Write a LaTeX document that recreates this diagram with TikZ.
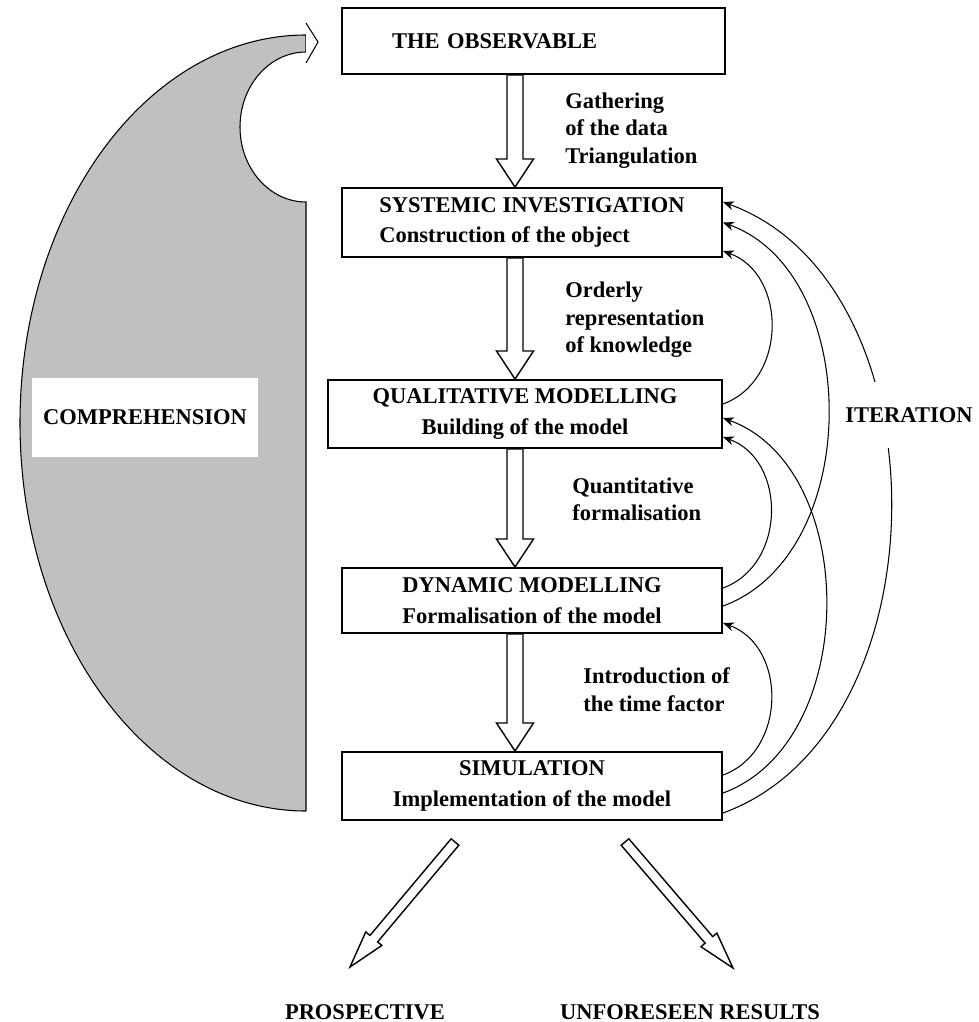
\documentclass[tikz,border=0pt]{standalone}
\usepackage{fontspec}
\setmainfont{Liberation Serif}
\usepackage{tikz}
\usetikzlibrary{arrows.meta,positioning,calc}
\definecolor{grisComp}{RGB}{192,192,192}

\begin{document}
\begin{tikzpicture}[
  boite/.style={draw, line width=1.1pt, minimum width=7.6cm, minimum height=1.36cm,
                align=center, font=\fontsize{12.8}{15.3}\selectfont\bfseries},
  etiquette/.style={anchor=west, align=left, inner sep=0pt,
                font=\fontsize{12.8}{15.6}\selectfont\bfseries},
  titre/.style={font=\fontsize{12.8}{15.3}\selectfont\bfseries},
  creux/.style={draw, line width=0.8pt, line join=miter},
  retour/.style={-{Stealth[length=2.2mm,width=1.8mm]}, line width=0.6pt,
                 out=20, in=-20}]

  \useasboundingbox (0,0) rectangle (19.56,-20.44);

  % la grande fleche grise
  \draw[line width=0.6pt, fill=grisComp] (6.12,-16.22) -- (6.12,-4.04)
    arc[start angle=-90, end angle=-270, x radius=1.32, y radius=1.5]
    -- (6.12,-0.70)
    arc[start angle=90, end angle=270, x radius=5.72, y radius=7.76] -- cycle;
  \draw[line width=0.6pt, fill=white] (6.12,-1.26) -- (6.36,-0.84) -- (6.12,-0.46);
  \node[titre, fill=white, minimum width=4.52cm, minimum height=1.58cm]
    (COMP) at (2.9,-8.35) {COMPREHENSION};

  % les etapes
  \node[boite, minimum width=7.66cm, minimum height=1.32cm, text width=5.66cm,
        inner xsep=1cm, align=left] (OBS) at (10.67,-0.82) {THE OBSERVABLE};
  \node[boite, align=left, minimum height=1.38cm] (SYS) at (10.64,-4.45)
    {SYSTEMIC INVESTIGATION\\[2pt]Construction of the object};
  \node[boite, minimum width=7.88cm] (QUAL) at (10.5,-8.28)
    {QUALITATIVE MODELLING\\[2pt]Building of the model};
  \node[boite, minimum height=1.3cm] (DYN) at (10.64,-12.01)
    {DYNAMIC MODELLING\\[2pt]Formalisation of the model};
  \node[boite] (SIM) at (10.64,-15.72)
    {SIMULATION\\[2pt]Implementation of the model};

  \node[etiquette] (L1) at (11.3,-2.61) {Gathering\\of the data\\Triangulation};
  \node[etiquette] (L2) at (11.3,-6.4) {Orderly\\representation\\of knowledge};
  \node[etiquette] (L3) at (11.44,-9.99) {Quantitative\\formalisation};
  \node[etiquette] (L4) at (11.66,-13.79) {Introduction of\\the time factor};

  \node[titre] (PROS) at (7.3,-20.24) {PROSPECTIVE};
  \node[titre] (UNF) at (13.8,-20.24) {UNFORESEEN RESULTS};

  % fleches creuses
  \coordinate (axe) at (10.3,0);
  \foreach \haut/\bas [count=\i] in {OBS/SYS, SYS/QUAL, QUAL/DYN, DYN/SIM} {
    \coordinate (a\i) at (\haut.south -| axe);
    \coordinate (b\i) at (\bas.north -| axe);
  }
  \coordinate (p1) at (9.1,-16.84);  \coordinate (p2) at (7.0,-19.34);
  \coordinate (u1) at (12.5,-16.84); \coordinate (u2) at (14.66,-19.36);
  \foreach \de/\vers/\dem/\tet/\lon in {a1/b1/0.16cm/0.37cm/0.56cm,
      a2/b2/0.16cm/0.37cm/0.56cm, a3/b3/0.16cm/0.37cm/0.56cm,
      a4/b4/0.16cm/0.37cm/0.56cm, p1/p2/0.1cm/0.21cm/0.74cm,
      u1/u2/0.1cm/0.21cm/0.74cm} {
    \coordinate (base) at ($(\vers)!\lon!(\de)$);
    \draw[creux] ($(\de)!\dem!90:(\vers)$) -- ($(base)!\dem!90:(\vers)$)
      -- ($(base)!\tet!90:(\vers)$) -- (\vers) -- ($(base)!\tet!-90:(\vers)$)
      -- ($(base)!\dem!-90:(\vers)$) -- ($(\de)!\dem!-90:(\vers)$) -- cycle;
  }

  % iterations
  \draw[retour, looseness=1.15] ([yshift=0.2cm]QUAL.east) to ([yshift=-0.57cm]SYS.east);
  \draw[retour, looseness=1.15] ([yshift=0.25cm]DYN.east) to ([yshift=-0.46cm]QUAL.east);
  \draw[retour] ([yshift=-0.11cm]DYN.east) to (SYS.east);
  \draw[retour, looseness=1.15] ([yshift=0.22cm]SIM.east) to ([yshift=-0.45cm]DYN.east);
  \draw[retour] ([yshift=-0.14cm]SIM.east) to ([yshift=-0.08cm]QUAL.east);
  \draw[retour] ([yshift=-0.54cm]SIM.east) to ([yshift=0.41cm]SYS.east);
  \node[titre, fill=white, inner xsep=0.05cm, inner ysep=0.5cm] (ITER)
    at (18.18,-8.3) {ITERATION};
\end{tikzpicture}
\end{document}
